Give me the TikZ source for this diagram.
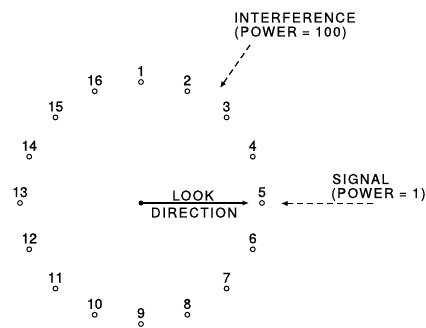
\documentclass[tikz,border=0pt]{standalone}
\usepackage{fontspec}
\setmainfont{TeX Gyre Heros}
\usetikzlibrary{arrows.meta}
\begin{document}
\begin{tikzpicture}[x=1pt,y=-1pt,
  elem/.style={circle,draw,line width=1pt,minimum size=4.8pt,inner sep=0pt},
  num/.style={font=\fontsize{14}{14}\selectfont\addfontfeature{FakeBold=0.8},inner sep=0pt,anchor=base},
  txt/.style={font=\fontsize{13.5}{14}\selectfont\addfontfeature{LetterSpace=11,FakeBold=0.8},inner sep=0pt},
  dasharrow/.style={line width=1.3pt,dash pattern=on 6pt off 4pt,-{Latex[length=6.5pt,width=5.5pt]}},
  solidarrow/.style={line width=1.2pt,-{Latex[length=6.5pt,width=5.5pt]}}
]
\useasboundingbox (0,0) rectangle (426,328);
\foreach \k in {1,...,16} {
  \pgfmathsetmacro\ang{90-(\k-1)*22.5}
  \node[elem] (e\k) at ({141+121*cos(\ang)},{203-121*sin(\ang)}) {};
  \node[num] (l\k) at ([yshift=6pt]e\k.center) {\k};
}
% look direction
\node[circle,fill,inner sep=0pt,minimum size=5pt] (dot) at (141,203) {};
\coordinate (lookend) at (249,203);
\draw[solidarrow] (dot.center) -- (lookend);
\node[txt,anchor=base] (look) at (193,200.5) {LOOK};
\node[txt,anchor=base] (dir) at (194,217.5) {DIRECTION};
% signal
\node[txt,anchor=base west] (sig1) at (332,184) {SIGNAL};
\node[txt,anchor=base west] (sig2) at (331,198) {(POWER = 1)};
\coordinate (sigstart) at (373,203.5);
\coordinate (sigend) at (281,203.5);
\draw[dasharrow] (sigstart) -- (sigend);
% interference
\node[txt,anchor=base west] (int1) at (234,22.5) {INTERFERENCE};
\node[txt,anchor=base west] (int2) at (234,36.5) {(POWER = 100)};
\coordinate (intstart) at (250,45);
\coordinate (intend) at (220,88);
\draw[dasharrow] (intstart) -- (intend);
\end{tikzpicture}
\end{document}
